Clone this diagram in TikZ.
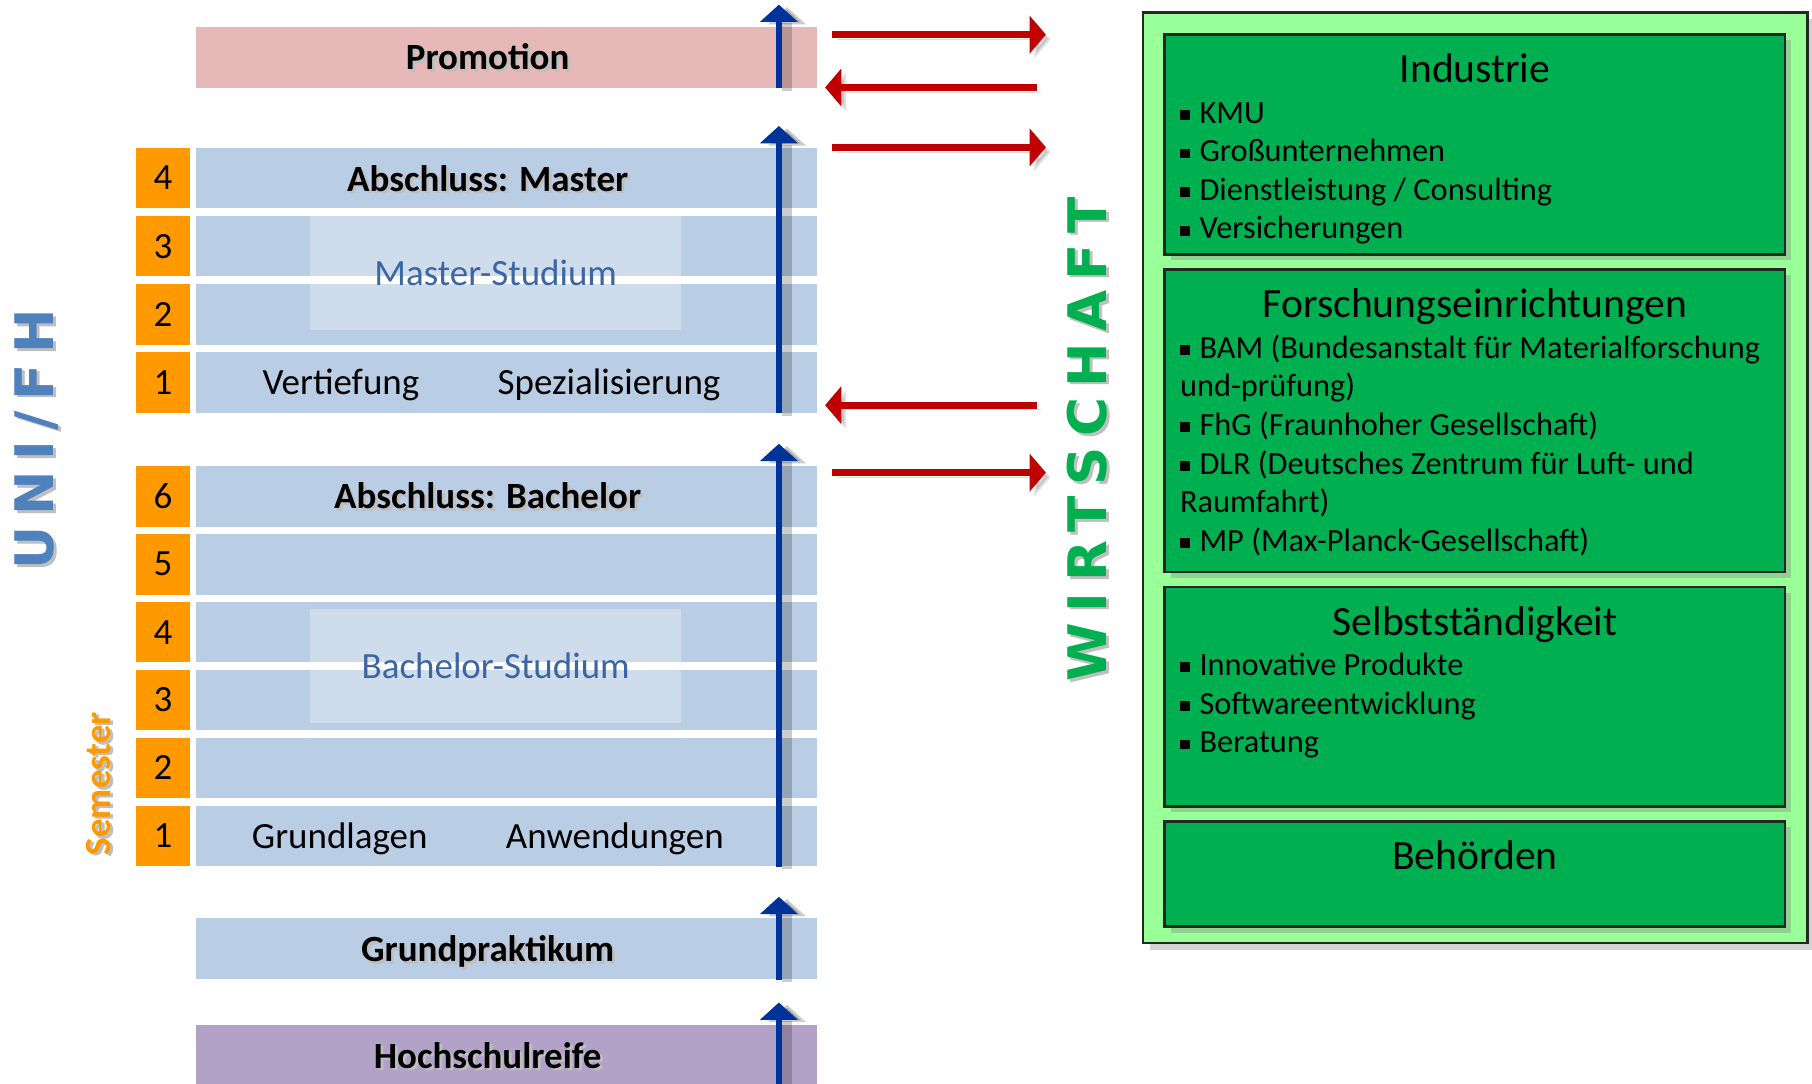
\documentclass[tikz,border=0pt]{standalone}
\usepackage{fontspec}
\setmainfont{Carlito}
\newfontfamily\wideletters[LetterSpace=20]{DejaVu Sans}
\usepackage{tikz}
\usetikzlibrary{positioning,calc,arrows.meta,shadows}
\usepackage{xcolor}

\definecolor{rowblue}{HTML}{B9CDE5}
\definecolor{semorange}{HTML}{FF9900}
\definecolor{promrose}{HTML}{E6B9B8}
\definecolor{hsviolet}{HTML}{B3A2C7}
\definecolor{arrblue}{HTML}{003399}
\definecolor{arrred}{HTML}{C00000}
\definecolor{wgreen}{HTML}{00B050}
\definecolor{wlight}{HTML}{99FF99}
\definecolor{studtext}{HTML}{3B66A2}
\definecolor{unifh}{HTML}{4F81BD}

% text with a soft shadow
\newcommand{\shd}[1]{\makebox[0pt][l]{\hspace*{1.2pt}\raisebox{-1.2pt}{\textcolor{black!25}{#1}}}#1}
\newcommand{\shdr}[1]{\makebox[0pt][l]{\hspace*{-1.2pt}\raisebox{-1.5pt}{\textcolor{black!25}{#1}}}#1}
\newcommand{\sqb}{\rule[1.5pt]{4.2pt}{4.2pt}\hspace{4.2pt}}

\begin{document}
\begin{tikzpicture}[x=0.5pt, y=-0.5pt,
   row/.style={rectangle, fill=rowblue, minimum width=268.5pt, minimum height=26.25pt, inner sep=0},
   sem/.style={rectangle, fill=semorange, minimum width=23pt, minimum height=26.25pt, inner sep=0, font=\fontsize{16}{18}\selectfont},
   study/.style={rectangle, fill=white, fill opacity=0.3, minimum width=160.5pt, minimum height=49.3pt, inner sep=0},
   studytxt/.style={text=studtext, font=\fontsize{16}{18}\selectfont, inner sep=0, anchor=base},
   lbl/.style={font=\bfseries\fontsize{16}{18}\selectfont, inner sep=0, anchor=base},
   txt/.style={font=\fontsize{16}{18}\selectfont, inner sep=0, anchor=base},
   up/.style={draw=arrblue, line width=2.3pt, -{Triangle[width=16pt,length=7.5pt]},
      preaction={draw=black, opacity=0.2, line width=4pt, transform canvas={xshift=3.5pt,yshift=-1pt}}},
   flow/.style={draw=arrred, line width=3pt, -{Triangle[width=16pt,length=7pt]},
      preaction={draw=black, opacity=0.12, transform canvas={xshift=2pt,yshift=-2pt}}},
   wbox/.style={rectangle, draw=black!85, line width=1pt, fill=wlight, minimum width=287.5pt, minimum height=402.5pt,
      drop shadow={opacity=0.35, shadow xshift=3pt, shadow yshift=-3pt}},
   sector/.style={rectangle, draw=black!85, line width=1.2pt, fill=wgreen, minimum width=268.35pt,
      drop shadow={opacity=0.35, shadow xshift=2.5pt, shadow yshift=-2.5pt}},
   ttl/.style={font=\fontsize{18}{20}\selectfont, inner sep=0, anchor=base},
   itm/.style={font=\fontsize{14}{16.7}\selectfont, inner sep=0, anchor=base west, align=left}]
   \useasboundingbox (0,0) rectangle (1568,938);

   % study path
   \node[row, fill=promrose] (prom) at (438.5,49.7) {};
   \node[lbl] (promtxt) at (422,60.3) {\shd{Promotion}};

   \node[row] (m4) at (438.5,154) {};
   \node[row] (m3) at (438.5,213) {};
   \node[row] (m2) at (438.5,272) {};
   \node[row] (m1) at (438.5,331) {};
   \node[sem] (ms4) at (141,154) {4};
   \node[sem] (ms3) at (141,213) {3};
   \node[sem] (ms2) at (141,272) {2};
   \node[sem] (ms1) at (141,331) {1};
   \node[study] (mstudy) at (428.5,236.3) {};
   \node[studytxt] (mstudytxt) at (429,247) {Master-Studium};
   \node[lbl] (mtxt) at (422,165.3) {\shd{Abschluss: Master}};
   \node[txt] (vert) at (295,341) {Vertiefung};
   \node[txt] (spez) at (527,341) {Spezialisierung};

   \node[row] (b6) at (438.5,429.5) {};
   \node[row] (b5) at (438.5,488.25) {};
   \node[row] (b4) at (438.5,547) {};
   \node[row] (b3) at (438.5,605.7) {};
   \node[row] (b2) at (438.5,664.5) {};
   \node[row] (b1) at (438.5,723.3) {};
   \node[sem] (bs6) at (141,429.5) {6};
   \node[sem] (bs5) at (141,488.25) {5};
   \node[sem] (bs4) at (141,547) {4};
   \node[sem] (bs3) at (141,605.7) {3};
   \node[sem] (bs2) at (141,664.5) {2};
   \node[sem] (bs1) at (141,723.3) {1};
   \node[study] (bstudy) at (428.5,576) {};
   \node[studytxt] (bstudytxt) at (429,587) {Bachelor-Studium};
   \node[lbl] (btxt) at (422,440.3) {\shd{Abschluss: Bachelor}};
   \node[txt] (grl) at (294,734) {Grundlagen};
   \node[txt] (anw) at (532,734) {Anwendungen};

   \node[row] (grund) at (438.5,821) {};
   \node[lbl] (grundtxt) at (422,832.3) {\shd{Grundpraktikum}};
   \node[row, fill=hsviolet] (hoch) at (438.5,913) {};
   \node[lbl] (hochtxt) at (422,924.3) {\shd{Hochschulreife}};

   \node[rotate=90, text=semorange, font=\bfseries\fontsize{16}{18}\selectfont] (semlbl) at (86.6,678) {\shdr{Semester}};
   \node[rotate=90, text=unifh, font=\wideletters\bfseries\fontsize{23}{26}\selectfont] (uni) at (33,380) {\shdr{UNI/FH}};

   \coordinate (ptop) at (674,4);
   \coordinate (mtop) at (674,109);
   \coordinate (btop) at (674,384);
   \coordinate (gtop) at (674,776);
   \coordinate (htop) at (674,867.5);
   \draw[up] (prom.south -| ptop) -- (ptop);
   \draw[up] (m1.south -| mtop) -- (mtop);
   \draw[up] (b1.south -| btop) -- (btop);
   \draw[up] (grund.south -| gtop) -- (gtop);
   \draw[up] (hoch.south -| htop) -- (htop);

   % links to Wirtschaft
   \coordinate (go1) at (720,30);    \coordinate (to1) at (905,30);
   \coordinate (go2) at (897,75.7);  \coordinate (to2) at (714,75.7);
   \coordinate (go3) at (720,127.5); \coordinate (to3) at (905,127.5);
   \coordinate (go4) at (897,350.6); \coordinate (to4) at (714,350.6);
   \coordinate (go5) at (720,409);   \coordinate (to5) at (905,409);
   \draw[flow] (go1) -- (to1);
   \draw[flow] (go2) -- (to2);
   \draw[flow] (go3) -- (to3);
   \draw[flow] (go4) -- (to4);
   \draw[flow] (go5) -- (to5);

   \node[rotate=90, text=wgreen, font=\wideletters\bfseries\fontsize{23}{26}\selectfont] (wlbl) at (942,380) {\shdr{WIRTSCHAFT}};

   % Wirtschaft
   \node[wbox] (wirt) at (1276.5,413.25) {};
   \node[sector, minimum height=95pt] (ind) at (1276.35,125) {};
   \node[sector, minimum height=130.85pt] (fe) at (1276.35,364.15) {};
   \node[sector, minimum height=94.8pt] (selb) at (1276.35,602.8) {};
   \node[sector, minimum height=45.65pt] (beh) at (1276.35,756.35) {};

   % lists sit on the baseline of their last line
   \node[ttl] (indttl) at ($(ind.north)+(0,43)$) {Industrie};
   \node[itm] (inditm) at ($(ind.north west)+(14,178)$) {\sqb KMU\\ \sqb Großunternehmen\\ \sqb Dienstleistung / Consulting\\ \sqb Versicherungen};
   \node[ttl] (fettl) at ($(fe.north)+(0,43)$) {Forschungseinrichtungen};
   \node[itm] (feitm) at ($(fe.north west)+(14,245)$) {\sqb BAM (Bundesanstalt für Materialforschung\\und-prüfung)\\ \sqb FhG (Fraunhoher Gesellschaft)\\ \sqb DLR (Deutsches Zentrum für Luft- und\\Raumfahrt)\\ \sqb MP (Max-Planck-Gesellschaft)};
   \node[ttl] (selbttl) at ($(selb.north)+(0,43)$) {Selbstständigkeit};
   \node[itm] (selbitm) at ($(selb.north west)+(14,144.6)$) {\sqb Innovative Produkte\\ \sqb Softwareentwicklung\\ \sqb Beratung};
   \node[ttl] (behttl) at ($(beh.north)+(0,43)$) {Behörden};
\end{tikzpicture}
\end{document}
